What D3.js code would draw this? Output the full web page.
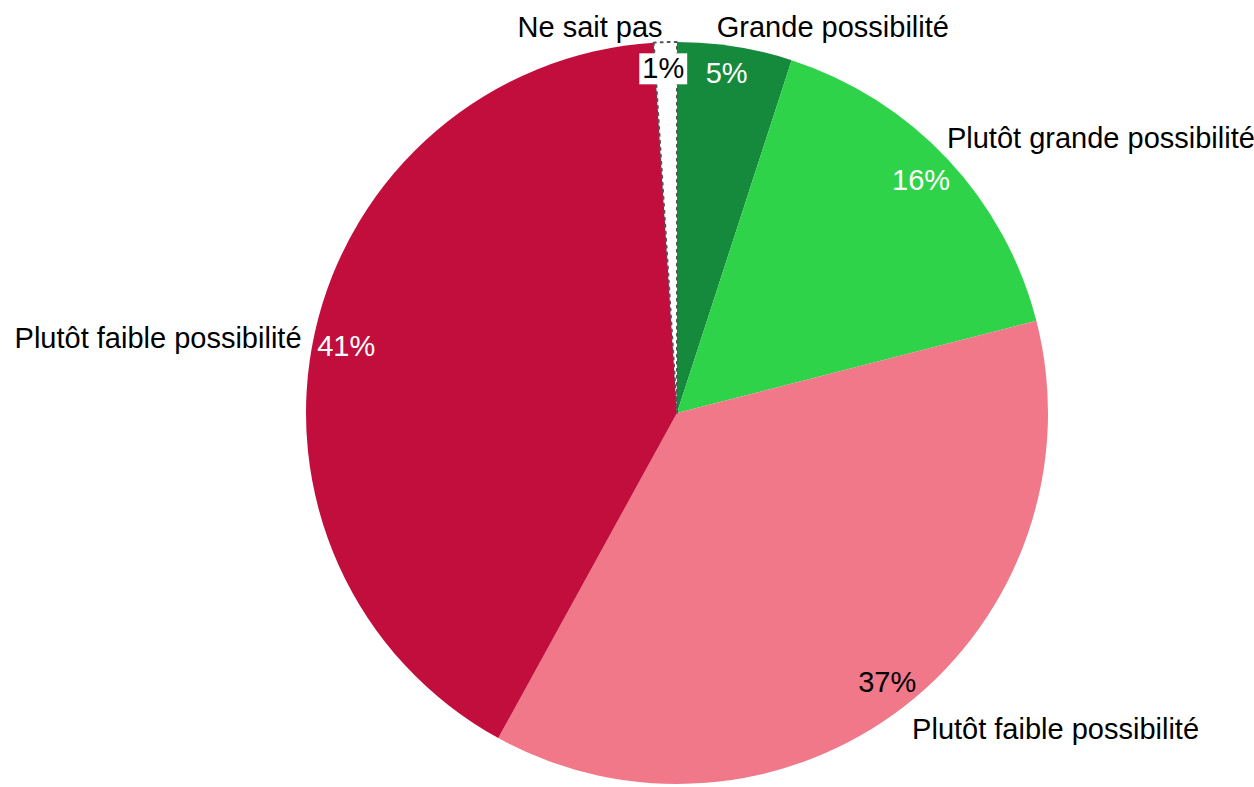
<!DOCTYPE html>
<html>
<head>
<meta charset="utf-8">
<script src="https://cdn.jsdelivr.net/npm/d3@7/dist/d3.min.js"></script>
<style>
  html, body { margin: 0; padding: 0; background: #ffffff; }
  svg { display: block; }
  text { font-family: "Liberation Sans", Arial, sans-serif; }
</style>
</head>
<body>
<svg id="chart" width="1254" height="787"></svg>
<script>
// Survey answers, clockwise from 12 o'clock
const categories = [
  "Grande possibilité",
  "Plutôt grande possibilité",
  "Plutôt faible possibilité",
  "Plutôt faible possibilité",
  "Ne sait pas"
];
const values = [5, 16, 37, 41, 1];
const percentLabels = ["5%", "16%", "37%", "41%", "1%"];
const sliceColors = ["#168a3c", "#2fd34a", "#f07889", "#c10e3c", "#ffffff"];
const percentColors = ["#ffffff", "#ffffff", "#000000", "#ffffff", "#000000"];

const width = 1254, height = 787;
const cx = 677, cy = 413, radius = 371;
const fontSize = 29;

// small hand nudges for the outer category labels
const labelNudge = [[-22, 4], [-18, -5], [-7, 4], [10, 11], [-2, 9]];
// small hand nudges for the percentage labels
const pctNudge = [[-4, -1], [-6, 2], [0, -2], [4, 8], [-3, -2]];

const svg = d3.select("#chart");
const g = svg.append("g").attr("transform", `translate(${cx},${cy})`);

const data = categories.map((c, i) => ({ i, category: c, value: values[i] }));

const pie = d3.pie().value(d => d.value).sort(null);
const arcs = pie(data);

const arc = d3.arc().innerRadius(0).outerRadius(radius);
const pctArc = d3.arc().innerRadius(343).outerRadius(343);
const outerArc = d3.arc().innerRadius(395).outerRadius(395);

g.selectAll("path.slice")
  .data(arcs)
  .join("path")
  .attr("class", "slice")
  .attr("d", arc)
  .attr("fill", d => sliceColors[d.data.i])
  .attr("stroke", d => d.data.value === 1 ? "#555555" : "none")
  .attr("stroke-width", d => d.data.value === 1 ? 2 : 0)
  .attr("stroke-dasharray", d => d.data.value === 1 ? "2,5" : null)
  .attr("stroke-linecap", "round");

// percentage labels inside the rim
const pct = g.selectAll("g.pct")
  .data(arcs)
  .join("g")
  .attr("class", "pct")
  .attr("transform", d => {
    const [x, y] = pctArc.centroid(d);
    const [nx, ny] = pctNudge[d.data.i];
    return `translate(${x + nx},${y + ny})`;
  });

pct.each(function(d) {
  const grp = d3.select(this);
  const t = grp.append("text")
    .attr("text-anchor", "middle")
    .attr("dy", "0.35em")
    .attr("font-size", fontSize)
    .attr("fill", percentColors[d.data.i])
    .text(percentLabels[d.data.i]);
  if (d.data.value === 1) {
    const bb = t.node().getBBox();
    grp.insert("rect", "text")
      .attr("x", bb.x - 3)
      .attr("y", bb.y + 1)
      .attr("width", bb.width + 6)
      .attr("height", bb.height - 1)
      .attr("fill", "#ffffff");
  }
});

// category labels outside the pie
g.selectAll("text.cat")
  .data(arcs)
  .join("text")
  .attr("class", "cat")
  .attr("font-size", fontSize)
  .attr("fill", "#000000")
  .attr("dy", "0.35em")
  .attr("text-anchor", d => ((d.startAngle + d.endAngle) / 2 < Math.PI) ? "start" : "end")
  .attr("x", d => outerArc.centroid(d)[0] + labelNudge[d.data.i][0])
  .attr("y", d => outerArc.centroid(d)[1] + labelNudge[d.data.i][1])
  .text(d => d.data.category);
</script>
</body>
</html>
